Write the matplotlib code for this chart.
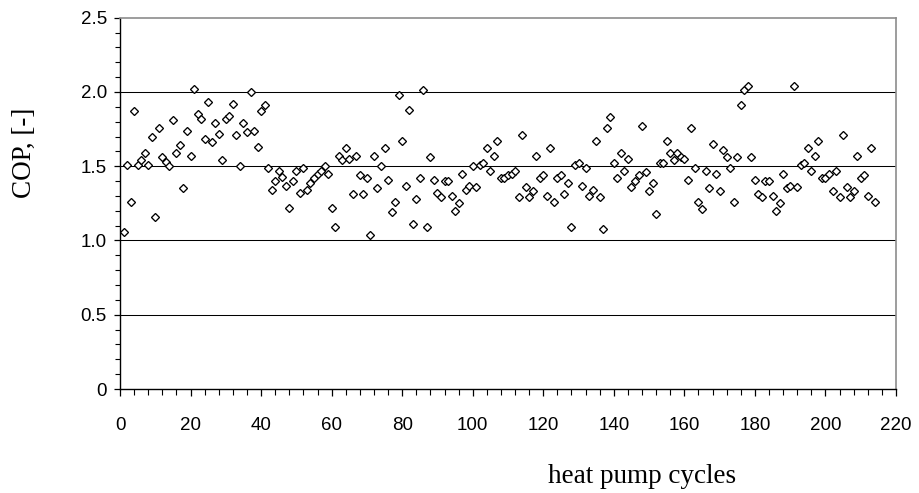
import matplotlib
matplotlib.use("Agg")
import matplotlib.pyplot as plt
from matplotlib.ticker import MultipleLocator, FuncFormatter
import numpy as np

# COP per heat pump cycle
cop = [
    1.06, 1.51, 1.26, 1.87, 1.51, 1.54, 1.59, 1.51, 1.70, 1.16,
    1.76, 1.56, 1.53, 1.50, 1.81, 1.59, 1.64, 1.35, 1.74, 1.57,
    2.02, 1.85, 1.82, 1.68, 1.93, 1.66, 1.79, 1.72, 1.54, 1.82,
    1.84, 1.92, 1.71, 1.50, 1.79, 1.73, 2.00, 1.74, 1.63, 1.87,
    1.91, 1.49, 1.34, 1.40, 1.47, 1.43, 1.37, 1.22, 1.40, 1.47,
    1.32, 1.49, 1.34, 1.39, 1.42, 1.45, 1.47, 1.50, 1.45, 1.22,
    1.09, 1.57, 1.54, 1.62, 1.55, 1.31, 1.57, 1.44, 1.31, 1.42,
    1.04, 1.57, 1.35, 1.50, 1.62, 1.41, 1.19, 1.26, 1.98, 1.67,
    1.37, 1.88, 1.11, 1.28, 1.42, 2.01, 1.09, 1.56, 1.41, 1.32,
    1.29, 1.40, 1.40, 1.30, 1.20, 1.25, 1.45, 1.34, 1.37, 1.50,
    1.36, 1.51, 1.52, 1.62, 1.47, 1.57, 1.67, 1.42, 1.42, 1.44,
    1.45, 1.47, 1.29, 1.71, 1.36, 1.29, 1.33, 1.57, 1.42, 1.44,
    1.30, 1.62, 1.26, 1.42, 1.44, 1.31, 1.39, 1.09, 1.51, 1.52,
    1.37, 1.49, 1.30, 1.34, 1.67, 1.29, 1.08, 1.76, 1.83, 1.52,
    1.42, 1.59, 1.47, 1.55, 1.36, 1.40, 1.44, 1.77, 1.46, 1.33,
    1.39, 1.18, 1.52, 1.52, 1.67, 1.59, 1.54, 1.59, 1.56, 1.55,
    1.41, 1.76, 1.49, 1.26, 1.21, 1.47, 1.35, 1.65, 1.45, 1.33,
    1.61, 1.56, 1.49, 1.26, 1.56, 1.91, 2.01, 2.04, 1.56, 1.41,
    1.31, 1.29, 1.40, 1.40, 1.30, 1.20, 1.25, 1.45, 1.35, 1.37,
    2.04, 1.36, 1.51, 1.52, 1.62, 1.47, 1.57, 1.67, 1.42, 1.42,
    1.45, 1.33, 1.47, 1.29, 1.71, 1.36, 1.29, 1.33, 1.57, 1.42,
    1.44, 1.30, 1.62, 1.26,
]
cycles = np.arange(1, len(cop) + 1)

xlabel = "heat pump cycles"
ylabel = "COP, [-]"

fig = plt.figure(figsize=(9.19, 4.93), dpi=100)
ax = fig.add_axes([120/919, 104/493, 776/919, 371.3/493])

for y in [0.5, 1.0, 1.5, 2.0]:
    ax.axhline(y, color="black", lw=0.75, zorder=1)

ax.plot(cycles, cop, linestyle="none", marker="D", markersize=3.7,
        markerfacecolor="white", markeredgecolor="black", markeredgewidth=0.95,
        zorder=3, clip_on=False)

ax.set_xlim(0, 220)
ax.set_ylim(0, 2.5)
ax.xaxis.set_major_locator(MultipleLocator(20))
ax.xaxis.set_minor_locator(MultipleLocator(4))
ax.yaxis.set_major_locator(MultipleLocator(0.5))
ax.yaxis.set_minor_locator(MultipleLocator(0.1))
ax.yaxis.set_major_formatter(FuncFormatter(lambda v, p: "0" if v == 0 else "%.1f" % v))

for s in ["left", "bottom"]:
    ax.spines[s].set_color("black")
    ax.spines[s].set_linewidth(1.0)
for s in ["top", "right"]:
    ax.spines[s].set_color("#8c8c8c")
    ax.spines[s].set_linewidth(1.2)

ax.tick_params(axis="y", which="major", direction="out", length=4.5, width=0.9,
               pad=5, labelsize=13.5, right=False)
ax.tick_params(axis="y", which="minor", direction="out", length=3.5, width=0.8)
ax.tick_params(axis="x", which="major", direction="out", length=5, width=0.9,
               pad=15, labelsize=13.5, top=False)
ax.tick_params(axis="x", which="minor", direction="out", length=4, width=0.8)
for lab in ax.get_xticklabels() + ax.get_yticklabels():
    lab.set_family(["Liberation Sans", "DejaVu Sans"])

fig.text(642/919, 1 - 483/493, xlabel, ha="center", va="baseline",
         family=["Liberation Serif", "DejaVu Serif"], fontsize=19.5)
fig.text(24/919, 1 - 153/493, ylabel, ha="center", va="center", rotation=90,
         family=["Liberation Serif", "DejaVu Serif"], fontsize=19.5)

fig.savefig("out.png", dpi=100)
